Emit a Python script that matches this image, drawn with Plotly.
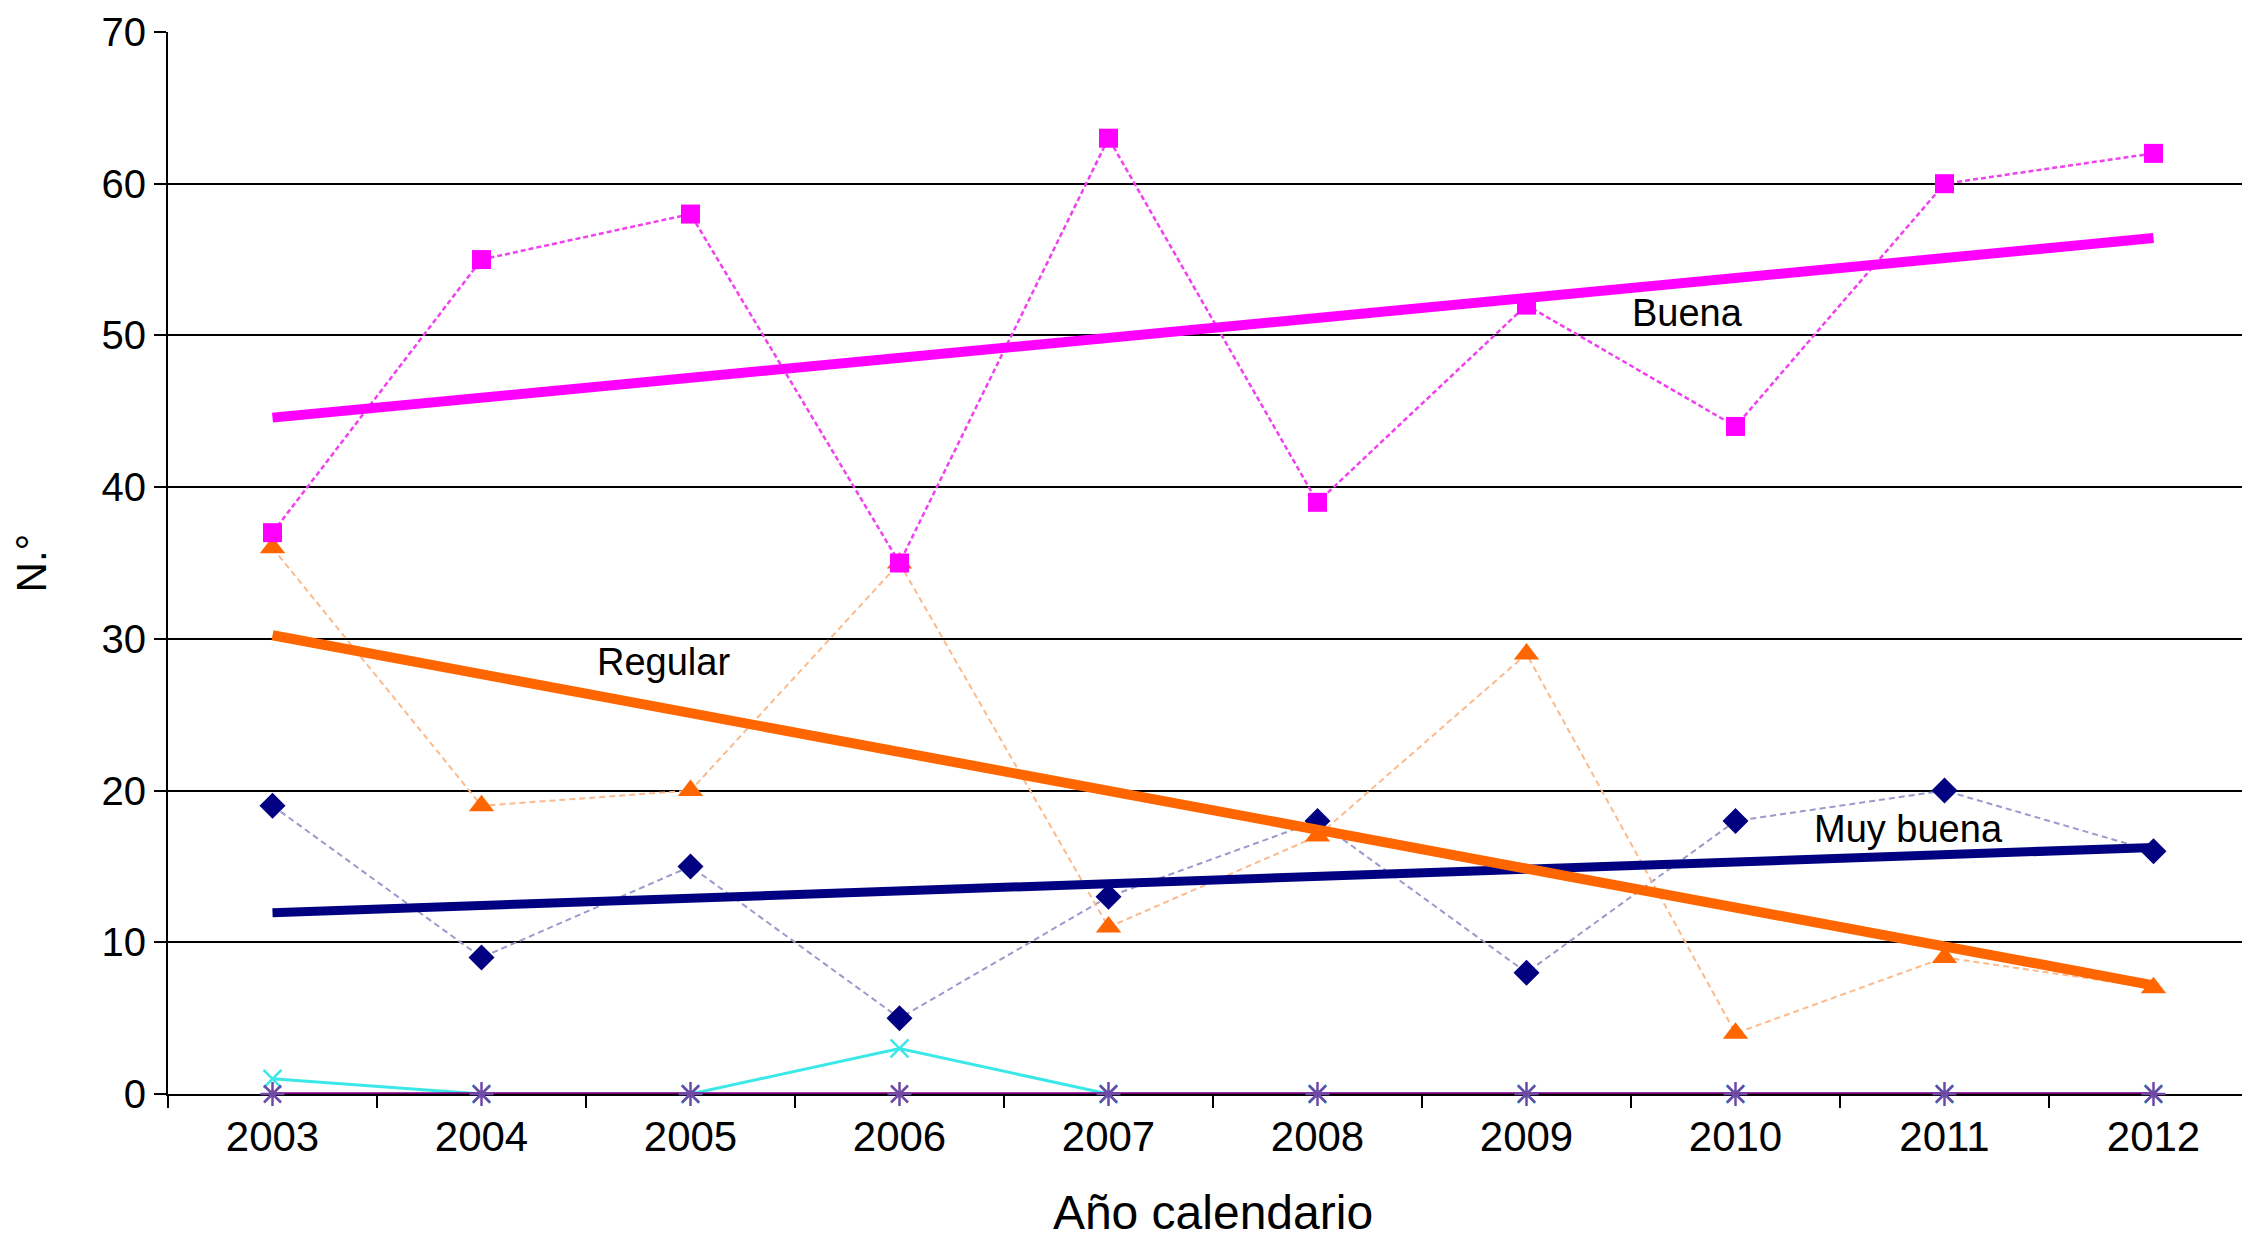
import numpy as np
import plotly.graph_objects as go

years = [2003, 2004, 2005, 2006, 2007, 2008, 2009, 2010, 2011, 2012]
buena = [37, 55, 58, 35, 63, 39, 52, 44, 60, 62]
regular = [36, 19, 20, 35, 11, 17, 29, 4, 9, 7]
muy_buena = [19, 9, 15, 5, 13, 18, 8, 18, 20, 16]
mala = [1, 0, 0, 3, 0, 0, 0, 0, 0, 0]
muy_mala = [0, 0, 0, 0, 0, 0, 0, 0, 0, 0]
y_ticks = [0, 10, 20, 30, 40, 50, 60, 70]
grid_vals = [10, 20, 30, 40, 50, 60]
labels = [("Buena", 2009.77, 51.45), ("Regular", 2004.87, 28.5), ("Muy buena", 2010.83, 17.45)]

FONT = "Liberation Sans, Arial, sans-serif"
NARROW = "Liberation Sans Narrow, Arial Narrow, Liberation Sans, sans-serif"

x_bounds = [y - 0.5 for y in years] + [years[-1] + 0.5]


def trend(vals):
    idx = np.arange(len(vals))
    k, b = np.polyfit(idx, vals, 1)
    return list(k * idx + b)


fig = go.Figure()

fig.add_trace(go.Scatter(x=years, y=mala, mode="lines+markers", cliponaxis=False,
                         line=dict(color="#3BE8E8", width=3),
                         marker=dict(symbol="x-thin", size=18,
                                     line=dict(color="#3BE8E8", width=2.5)),
                         showlegend=False))
fig.add_trace(go.Scatter(x=years, y=muy_mala, mode="lines+markers", cliponaxis=False,
                         line=dict(color="#800080", width=3.5),
                         marker=dict(symbol="asterisk", size=20,
                                     line=dict(color="#6E4AA6", width=2.5)),
                         showlegend=False))
fig.add_trace(go.Scatter(x=years, y=muy_buena, mode="lines+markers",
                         line=dict(color="#9A9ACC", width=2, dash="6px,4px"),
                         marker=dict(symbol="diamond", size=20, color="#000080"),
                         showlegend=False))
fig.add_trace(go.Scatter(x=years, y=regular, mode="lines+markers",
                         line=dict(color="#FBBA8C", width=2, dash="6px,4px"),
                         marker=dict(symbol="triangle-up", size=22, color="#FF6600"),
                         showlegend=False))
fig.add_trace(go.Scatter(x=years, y=buena, mode="lines+markers",
                         line=dict(color="#F040F0", width=2.5, dash="5px,3px"),
                         marker=dict(symbol="square", size=19, color="#FF00FF"),
                         showlegend=False))

fig.add_trace(go.Scatter(x=years, y=trend(muy_buena), mode="lines",
                         line=dict(color="#000080", width=9), showlegend=False))
fig.add_trace(go.Scatter(x=years, y=trend(regular), mode="lines",
                         line=dict(color="#FF6600", width=10), showlegend=False))
fig.add_trace(go.Scatter(x=years, y=trend(buena), mode="lines",
                         line=dict(color="#FF00FF", width=10), showlegend=False))

for text, lx, ly in labels:
    fig.add_annotation(x=lx, y=ly, text=text, showarrow=False,
                       font=dict(family=FONT, size=38, color="black"))

fig.update_layout(
    width=2250, height=1241,
    margin=dict(l=160, r=0, t=24, b=155),
    paper_bgcolor="white", plot_bgcolor="white",
    font=dict(family=FONT, color="black"),
    xaxis=dict(range=[x_bounds[0], x_bounds[-1]], tickmode="array",
               tickvals=years, ticktext=[str(y) for y in years], ticks="",
               showline=True, linecolor="black", linewidth=2, layer="below traces",
               showgrid=False, zeroline=False, ticklabelstandoff=5,
               tickfont=dict(size=42, family=NARROW),
               minor=dict(tickmode="array", tickvals=x_bounds, ticks="outside",
                          ticklen=12, tickwidth=2, tickcolor="black", showgrid=False),
               title=dict(text="Año calendario", font=dict(size=48, family=NARROW),
                          standoff=36)),
    yaxis=dict(range=[0, 70], tickmode="array", tickvals=y_ticks, automargin=False,
               ticks="outside", ticklen=12, tickwidth=2, tickcolor="black",
               showline=True, linecolor="black", linewidth=2, layer="below traces",
               showgrid=False, zeroline=False, tickfont=dict(size=40),
               ticklabeloverflow="allow",
               minor=dict(tickmode="array", tickvals=grid_vals, showgrid=True,
                          gridcolor="black", gridwidth=2, ticks=""),
               title=dict(text="N.°", font=dict(size=42), standoff=44)),
)

fig.write_html("out.html")
